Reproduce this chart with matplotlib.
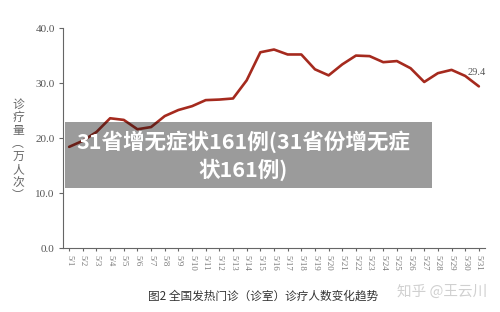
import matplotlib
matplotlib.use("Agg")
import matplotlib.pyplot as plt
from matplotlib.patches import Rectangle

plt.rcParams['font.family'] = ['Noto Sans CJK SC', 'DejaVu Sans']

dates = [f"5/{d}" for d in range(1, 32)]
values = [18.4, 19.5, 21.1, 23.6, 23.3, 21.6, 22.0, 24.0, 25.1, 25.8,
          26.9, 27.0, 27.2, 30.5, 35.6, 36.1, 35.2, 35.2, 32.5, 31.4,
          33.4, 35.0, 34.9, 33.8, 34.0, 32.7, 30.2, 31.8, 32.4, 31.3, 29.4]
yticks = [0, 10, 20, 30, 40]
ylabel_chars = ["诊", "疗", "量", "︵", "万", "人", "次", "︶"]
caption = "图2 全国发热门诊（诊室）诊疗人数变化趋势"
watermark = "知乎 @王云川"
overlay = "31省增无症状161例(31省份增无症\n状161例)"

fig = plt.figure(figsize=(5, 3.12), dpi=100)
rect = [0.126, 0.205, 0.844, 0.705]
ax = fig.add_axes(rect)
x = list(range(len(values)))
ax.plot(x, values, color="#a52a1e", lw=1.9, solid_capstyle='round')
ax.set_xlim(-0.45, 30.45)
ax.set_ylim(0, 40)
ax.set_yticks(yticks)
ax.set_yticklabels([f"{v:.1f}" for v in yticks], fontfamily='Liberation Serif',
                   fontsize=8, color="#555555")
ax.set_xticks(x)
ax.set_xticklabels(dates, rotation=-90, fontfamily='Liberation Serif',
                   fontsize=6.3, color="#777777")
for s in ['top', 'right']:
    ax.spines[s].set_visible(False)
for s in ['left', 'bottom']:
    ax.spines[s].set_color("#666666")
    ax.spines[s].set_linewidth(0.8)
ax.tick_params(axis='y', length=3, color="#666666", pad=3)
ax.tick_params(axis='x', length=2, color="#666666", pad=3)
ax.annotate(f"{values[-1]:.1f}", xy=(x[-1], values[-1]), xytext=(-8, 8),
            textcoords='offset points', fontfamily='Liberation Serif',
            fontsize=7.5, color="#555555")

# vertical y label
fig.text(0.036, 0.52, "\n".join(ylabel_chars), ha='center', va='center',
         fontsize=8.5, color="#666666", linespacing=1.0)

fig.text(0.526, 0.05, caption, ha='center', va='center', fontsize=8.4, color="#333333")
fig.text(0.885, 0.065, watermark, ha='center', va='center', fontsize=10.5, color="#d0d0d0")

# overlay box
box_xywh = (0.13, 1 - 188/312, 0.734, 66/312)
box = Rectangle(box_xywh[:2], box_xywh[2], box_xywh[3], transform=fig.transFigure,
                facecolor="#9b9b9b", edgecolor='none', zorder=5)
fig.patches.append(box)

# line seen through the (darkening) overlay box
ax2 = fig.add_axes(rect, zorder=5.5)
ax2.set_axis_off()
ax2.patch.set_alpha(0)
ax2.set_xlim(ax.get_xlim())
ax2.set_ylim(ax.get_ylim())
ln, = ax2.plot(x, values, color="#6a1f18", lw=1.9, solid_capstyle='round')
clip = Rectangle(box_xywh[:2], box_xywh[2], box_xywh[3], transform=fig.transFigure,
                 facecolor='none', edgecolor='none')
ln.set_clip_path(clip)

fig.text(0.486, 1 - 156/312, overlay, ha='center', va='center', fontsize=15.5,
         fontweight='bold', color='white', zorder=6, linespacing=1.3)

fig.savefig("out.png", dpi=100)
